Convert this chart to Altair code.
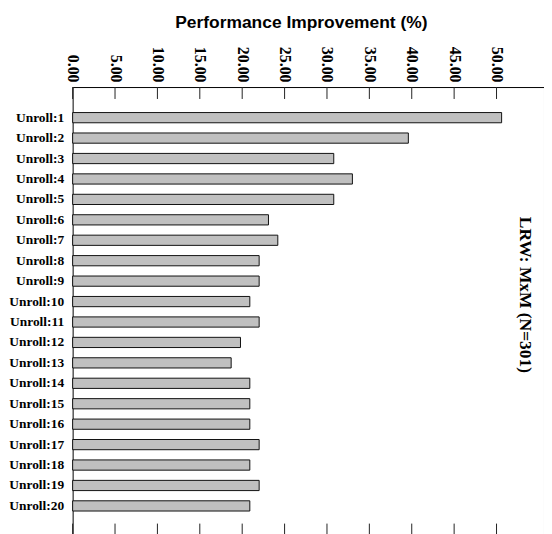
import altair as alt
import pandas as pd

categories = ["Unroll:1", "Unroll:2", "Unroll:3", "Unroll:4", "Unroll:5",
              "Unroll:6", "Unroll:7", "Unroll:8", "Unroll:9", "Unroll:10",
              "Unroll:11", "Unroll:12", "Unroll:13", "Unroll:14", "Unroll:15",
              "Unroll:16", "Unroll:17", "Unroll:18", "Unroll:19", "Unroll:20"]
values = [50.6, 39.6, 30.8, 33.0, 30.8, 23.1, 24.2, 22.0, 22.0, 20.9,
          22.0, 19.8, 18.7, 20.9, 20.9, 20.9, 22.0, 20.9, 22.0, 20.9]
tick_values = [0, 5, 10, 15, 20, 25, 30, 35, 40, 45, 50]
x_max = 55.6
x_title = "Performance Improvement (%)"
side_title = "LRW: MxM (N=301)"

W, H = 474, 452

bars_df = pd.DataFrame({"cat": categories, "val": values})
ticks_df = pd.DataFrame({"val": tick_values})
side_df = pd.DataFrame({"t": [side_title]})

x_scale = alt.Scale(domain=[0, x_max], nice=False, zero=True)
x_axis = alt.Axis(orient="top", values=tick_values, format=".2f",
                  labelAngle=90, labelFont="Liberation Serif",
                  labelFontWeight="bold", labelFontSize=16,
                  labelColor="black", labelPadding=5, labelFlush=False,
                  labelOverlap=False, ticks=False, tickSize=0,
                  domain=False, grid=False,
                  title=x_title, titleFont="Liberation Sans",
                  titleFontSize=17.5, titleFontWeight="bold",
                  titleColor="black", titleX=229.5, titleY=-60,
                  titleBaseline="alphabetic")

bars = alt.Chart(bars_df).mark_bar(
    fill="#c0c0c0", stroke="#111111", strokeWidth=1
).encode(
    y=alt.Y("cat:N", sort=categories,
            scale=alt.Scale(paddingInner=0.5, paddingOuter=1, range=[5.1, 446.9]),
            axis=alt.Axis(title=None, ticks=False, domain=False, grid=False,
                          labelFont="Liberation Serif", labelFontWeight="bold",
                          labelFontSize=13.5, labelColor="black", labelPadding=9)),
    x=alt.X("val:Q", scale=x_scale, axis=x_axis),
)

ticks_top = alt.Chart(ticks_df).mark_rule(color="#222222", strokeWidth=1).encode(
    x=alt.X("val:Q", scale=x_scale, axis=x_axis),
    y=alt.value(0), y2=alt.value(12),
)
ticks_bottom = alt.Chart(ticks_df).mark_rule(color="#222222", strokeWidth=1).encode(
    x=alt.X("val:Q", scale=x_scale, axis=x_axis),
    y=alt.value(H - 13), y2=alt.value(H),
)

side = alt.Chart(side_df).mark_text(
    angle=90, font="Liberation Serif", fontWeight="bold", fontSize=17.5,
    color="black", align="center", baseline="middle"
).encode(text="t:N", x=alt.value(455), y=alt.value(209))

chart = alt.layer(bars, ticks_top, ticks_bottom, side).properties(
    width=W, height=H,
    padding={"left": 0, "top": 4, "right": 0, "bottom": 0},
    background="white",
).configure_view(stroke="black", strokeWidth=1)

chart.save("out.html", embed_options={"renderer": "svg", "actions": False})
